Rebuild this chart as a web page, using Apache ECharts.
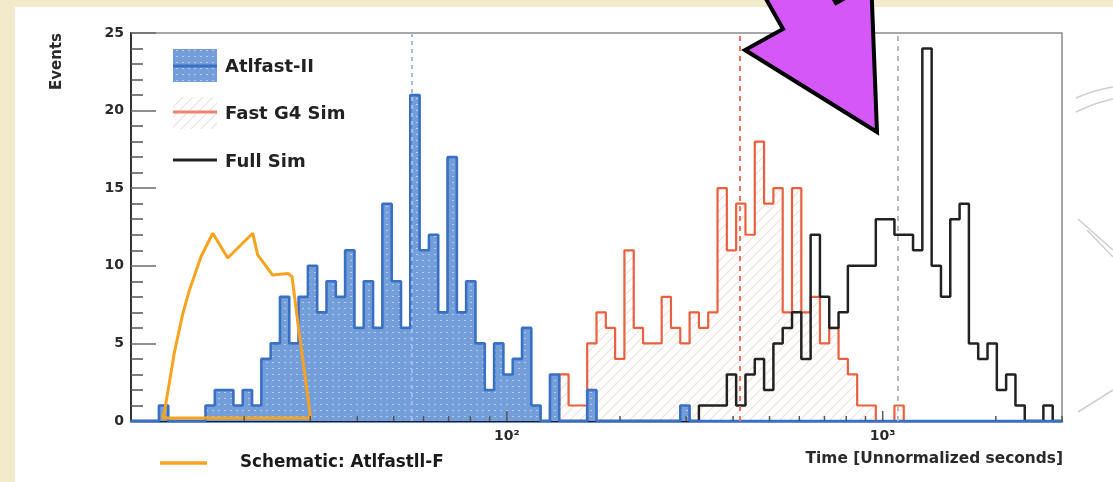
<!DOCTYPE html>
<html><head><meta charset="utf-8">
<script src="https://cdn.jsdelivr.net/npm/echarts@6/dist/echarts.min.js"></script>
<style>
html,body{margin:0;padding:0;width:1113px;height:482px;overflow:hidden;background:#f3eacc;}
#panel{position:absolute;left:15px;top:7px;right:0;bottom:0;background:#ffffff;}
#chart{position:absolute;left:0;top:0;width:1113px;height:482px;}
</style></head><body>
<div id="panel"></div>
<div id="chart"></div>
<script>
// ---- data ----
const X_MIN = 10, X_MAX = 3000, N_BINS = 100;
const atlfastII = [
 0,0,0,1,0,0,0,0,1,2,
 2,1,2,1,4,5,8,5,8,10,
 7,9,8,11,6,9,6,14,9,6,
 21,11,12,7,17,7,9,5,2,5,
 3,4,6,1,0,3,0,0,0,2,
 0,0,0,0,0,0,0,0,0,1,
 0,0,0,0,0,0,0,0,0,0,
 0,0,0,0,0,0,0,0,0,0,
 0,0,0,0,0,0,0,0,0,0,
 0,0,0,0,0,0,0,0,0,0];
const fastG4Sim = [
 0,0,0,0,0,0,0,0,0,0,
 0,0,0,0,0,0,0,0,0,0,
 0,0,0,0,0,0,0,0,0,0,
 0,0,0,0,0,0,0,0,0,0,
 0,0,0,0,0,1,3,1,1,5,
 7,6,4,11,6,5,5,8,6,5,
 7,6,7,15,11,14,12,18,14,15,
 7,15,7,8,5,6,4,3,1,1,
 0,0,1,0,0,0,0,0,0,0,
 0,0,0,0,0,0,0,0,0,0];
const fullSim = [
 0,0,0,0,0,0,0,0,0,0,
 0,0,0,0,0,0,0,0,0,0,
 0,0,0,0,0,0,0,0,0,0,
 0,0,0,0,0,0,0,0,0,0,
 0,0,0,0,0,0,0,0,0,0,
 0,0,0,0,0,0,0,0,0,0,
 0,1,1,1,3,1,3,4,2,5,
 6,7,4,12,8,6,7,10,10,10,
 13,13,12,12,11,24,10,8,13,14,
 5,4,5,2,3,1,0,0,1,0];
const schematicX = [12.09,12.26,13.04,13.73,14.29,15.36,16.50,18.09,21.08,21.73,23.82,26.17,26.82,27.87,29.04,30.04,12.09];
const schematicY = [0.2,0.5,4.4,6.9,8.4,10.6,12.1,10.5,12.1,10.7,9.4,9.5,9.3,6.1,2.9,0.2,0.2];
const meanAtlfastII = 55.8, meanFastG4Sim = 417, meanFullSim = 1098;
const xTickValues = [20,30,40,50,60,70,80,90,100,200,300,400,500,600,700,800,900,1000,2000,3000];
const xLabelExponents = [2,3];
const Y_MIN = 0, Y_MAX = 25, Y_STEP = 5;

// ---- helpers ----
const binEdges = [];
for (let i = 0; i <= N_BINS; i++) binEdges.push(X_MIN * Math.pow(X_MAX / X_MIN, i / N_BINS));
function stepData(counts) {
  const d = counts.map((c, i) => [binEdges[i], c]);
  d.push([binEdges[N_BINS], 0]);
  return d;
}
function dotPattern() {
  const c = document.createElement('canvas'); c.width = 6; c.height = 6;
  const g = c.getContext('2d');
  g.fillStyle = '#739ed9'; g.fillRect(0, 0, 6, 6);
  g.fillStyle = '#b6ccee'; g.fillRect(2, 2, 2, 1);
  return c;
}
function hatchPattern() {
  const c = document.createElement('canvas'); c.width = 10; c.height = 10;
  const g = c.getContext('2d');
  g.fillStyle = 'rgba(255,255,255,0)'; g.fillRect(0, 0, 10, 10);
  g.strokeStyle = '#f1e0d9'; g.lineWidth = 1.2;
  g.beginPath();
  g.moveTo(0, 10); g.lineTo(10, 0);
  g.moveTo(-2, 2); g.lineTo(2, -2);
  g.moveTo(8, 12); g.lineTo(12, 8);
  g.stroke();
  return c;
}
const FONT = 'DejaVu Sans';
const dots = dotPattern(), hatch = hatchPattern();

const chart = echarts.init(document.getElementById('chart'), null, {renderer: 'canvas'});
const option = {
  animation: false,
  grid: {left: 131, right: 51, top: 33, bottom: 61, show: true, borderColor: '#8a8a8a', borderWidth: 1.5, backgroundColor: 'rgba(0,0,0,0)', outerBoundsMode: 'none'},
  xAxis: {
    type: 'log', logBase: 10, min: X_MIN, max: X_MAX,
    axisLine: {show: true, lineStyle: {color: '#3a70c4', width: 2.5}},
    axisTick: {show: false}, minorTick: {show: false}, splitLine: {show: false},
    axisLabel: {
      margin: 8, fontFamily: FONT, fontSize: 14, fontWeight: 'bold', color: '#2a2a2a',
      formatter: function (v) {
        const e = Math.round(Math.log10(v));
        if (Math.abs(Math.log10(v) - e) < 1e-6 && xLabelExponents.indexOf(e) >= 0) return '10' + (e === 2 ? '\u00b2' : '\u00b3');
        return '';
      }
    }
  },
  yAxis: {
    type: 'value', min: Y_MIN, max: Y_MAX, interval: Y_STEP,
    axisLine: {show: true, lineStyle: {color: '#333', width: 2}},
    axisTick: {show: true, inside: true, length: 25, lineStyle: {color: '#6a6a6a', width: 1.5}},
    minorTick: {show: true, splitNumber: 5, length: 12, lineStyle: {color: '#555', width: 1.5}},
    splitLine: {show: false},
    axisLabel: {margin: 7, fontFamily: FONT, fontSize: 14, fontWeight: 'bold', color: '#2a2a2a'}
  },
  series: [
    {
      name: 'Fast G4 Sim', type: 'line', step: 'end', data: stepData(fastG4Sim), symbol: 'none', z: 2,
      lineStyle: {color: '#e9603f', width: 2.2}, areaStyle: {color: {image: hatch, repeat: 'repeat'}, opacity: 1},
      markLine: {silent: true, symbol: ['none', 'none'], label: {show: false},
        lineStyle: {color: '#ec735e', width: 2, type: [5, 5]}, data: [{xAxis: meanFastG4Sim}]}
    },
    {
      name: 'Full Sim', type: 'line', step: 'end', data: stepData(fullSim), symbol: 'none', z: 3,
      lineStyle: {color: '#222', width: 2.5},
      markLine: {silent: true, symbol: ['none', 'none'], label: {show: false},
        lineStyle: {color: '#b9b9b9', width: 2, type: [5, 5]}, data: [{xAxis: meanFullSim}]}
    },
    {
      name: 'Atlfast-II', type: 'line', step: 'end', data: stepData(atlfastII), symbol: 'none', z: 4,
      lineStyle: {color: '#3a70c4', width: 2.6}, areaStyle: {color: {image: dots, repeat: 'repeat'}, opacity: 1},
      markLine: {silent: true, symbol: ['none', 'none'], label: {show: false},
        lineStyle: {color: '#9ebde8', width: 2, type: [4, 4]}, data: [{xAxis: meanAtlfastII}]}
    },
    {
      name: 'Schematic: Atlfastll-F', type: 'line', data: schematicX.map((x, i) => [x, schematicY[i]]),
      symbol: 'none', z: 5, lineStyle: {color: '#f7a320', width: 3}
    },
    {
      type: 'custom', z: 6, silent: true, data: xTickValues.map(v => [v, 0]),
      renderItem: function (params, api) {
        const v = api.value(0);
        const p = api.coord([v, 0]);
        const major = Math.abs(Math.log10(v) - Math.round(Math.log10(v))) < 1e-6;
        return {type: 'line', shape: {x1: p[0], y1: p[1], x2: p[0], y2: p[1] - (major ? 10 : 5)},
          style: {stroke: '#555', lineWidth: 1.5}};
      }
    }
  ],
  graphic: [
    // axis titles
    {type: 'text', x: 57, y: 33, rotation: Math.PI / 2, z: 50,
      style: {text: 'Events', fontFamily: FONT, fontSize: 15, fontWeight: 'bold', fill: '#2a2a2a', align: 'right', verticalAlign: 'middle'}},
    {type: 'text', x: 1063, y: 459, z: 50,
      style: {text: 'Time [Unnormalized seconds]', fontFamily: FONT, fontSize: 15.4, fontWeight: 'bold', fill: '#2a2a2a', align: 'right', verticalAlign: 'middle'}},
    // legend
    {type: 'rect', shape: {x: 173, y: 49, width: 44, height: 33}, style: {fill: {image: dots, repeat: 'repeat'}}, z: 50},
    {type: 'line', shape: {x1: 173, y1: 66, x2: 217, y2: 66}, style: {stroke: '#3a70c4', lineWidth: 3}, z: 51},
    {type: 'text', x: 225, y: 67, z: 51, style: {text: 'Atlfast-II', fontFamily: FONT, fontWeight: 'bold', fontSize: 18, fill: '#222', verticalAlign: 'middle'}},
    {type: 'rect', shape: {x: 173, y: 97, width: 44, height: 32}, style: {fill: {image: hatch, repeat: 'repeat'}}, z: 50},
    {type: 'line', shape: {x1: 173, y1: 112, x2: 217, y2: 112}, style: {stroke: '#ee8470', lineWidth: 3}, z: 51},
    {type: 'text', x: 225, y: 114, z: 51, style: {text: 'Fast G4 Sim', fontFamily: FONT, fontWeight: 'bold', fontSize: 18, fill: '#222', verticalAlign: 'middle'}},
    {type: 'line', shape: {x1: 173, y1: 160, x2: 217, y2: 160}, style: {stroke: '#222', lineWidth: 3}, z: 51},
    {type: 'text', x: 225, y: 162, z: 51, style: {text: 'Full Sim', fontFamily: FONT, fontWeight: 'bold', fontSize: 18, fill: '#222', verticalAlign: 'middle'}},
    // bottom legend
    {type: 'line', shape: {x1: 160, y1: 463, x2: 207, y2: 463}, style: {stroke: '#f7a320', lineWidth: 3.5}, z: 51},
    {type: 'text', x: 240, y: 463, z: 51, style: {text: 'Schematic: Atlfastll-F', fontFamily: FONT, fontWeight: 'bold', fontSize: 16.8, fill: '#1a1a1a', verticalAlign: 'middle'}},
    // arrow
    {type: 'polygon', z: 60, shape: {points: [[761, -10], [783, 29], [745, 50], [877, 132], [871.5, -10], [859.5, -10], [836, 3], [828.6, -10]]},
      style: {fill: '#d458f7', stroke: '#000', lineWidth: 4, lineJoin: 'miter'}},
    // decorative background curves
    {type: 'polyline', z: 1, shape: {points: [[1076, 98], [1095, 91], [1113, 87]], smooth: 0.4}, style: {stroke: '#cfcfcf', lineWidth: 1.5, fill: null}},
    {type: 'polyline', z: 1, shape: {points: [[1076, 112], [1095, 104], [1113, 99]], smooth: 0.4}, style: {stroke: '#cfcfcf', lineWidth: 1.5, fill: null}},
    {type: 'polyline', z: 1, shape: {points: [[1078, 219], [1113, 250]]}, style: {stroke: '#cfcfcf', lineWidth: 1.5, fill: null}},
    {type: 'polyline', z: 1, shape: {points: [[1087, 230], [1113, 257]]}, style: {stroke: '#cfcfcf', lineWidth: 1.5, fill: null}},
    {type: 'polyline', z: 1, shape: {points: [[1078, 412], [1113, 390]]}, style: {stroke: '#cfcfcf', lineWidth: 1.5, fill: null}}
  ]
};
chart.setOption(option);
</script>
</body></html>
